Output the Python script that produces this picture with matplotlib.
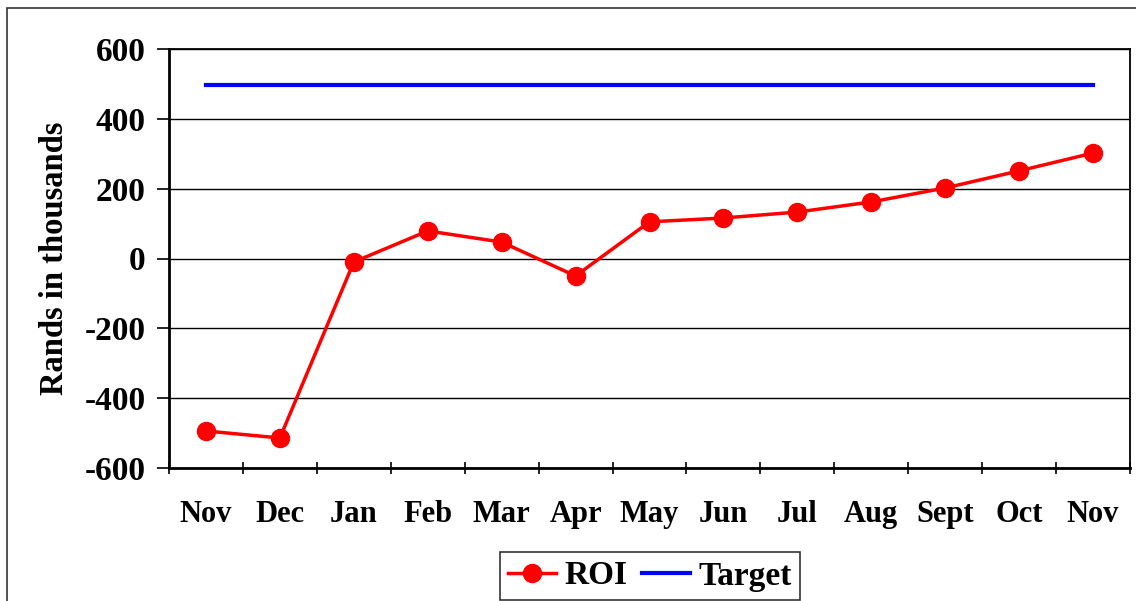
import matplotlib
matplotlib.use("Agg")
import matplotlib.pyplot as plt
from matplotlib.patches import Rectangle
from matplotlib.ticker import FixedLocator

months = ["Nov", "Dec", "Jan", "Feb", "Mar", "Apr", "May", "Jun", "Jul", "Aug", "Sept", "Oct", "Nov"]
roi = [-494, -514, -10, 79, 47, -50, 105, 116, 133, 162, 202, 251, 302]
target = [497] * len(months)
yticks = [-600, -400, -200, 0, 200, 400, 600]

plt.rcParams['font.family'] = ['Liberation Serif', 'DejaVu Serif']
plt.rcParams['font.weight'] = 'bold'

W, H = 1136, 601
fig = plt.figure(figsize=(W / 100, H / 100), dpi=100)
ax = fig.add_axes([169 / W, 1 - 468 / H, (1130 - 169) / W, (468 - 49) / H])

x = list(range(len(months)))
ax.plot(x, roi, color='#ff0000', lw=2.5, marker='o', ms=13, label='ROI', zorder=3)
ax.plot(x, target, color='#0000ff', lw=3, label='Target', zorder=3)

ax.set_xlim(-0.5, len(months) - 0.5)
ax.set_ylim(-600, 600)
ax.set_yticks(yticks)
ax.set_yticklabels([str(v) for v in yticks], fontsize=24, fontweight='bold')
ax.yaxis.grid(True, color='black', lw=1)
ax.set_axisbelow(True)

ax.set_xticks(x)
ax.set_xticklabels(months, fontsize=22, fontweight='bold')
ax.tick_params(axis='x', which='major', length=0, pad=23)
ax.xaxis.set_minor_locator(FixedLocator([i - 0.5 for i in range(len(months) + 1)]))
ax.tick_params(axis='x', which='minor', length=9, width=1.2, direction='inout')
ax.tick_params(axis='y', length=9, width=1.2, direction='out', pad=8)

for s in ['left', 'bottom']:
    ax.spines[s].set_linewidth(2)
for s in ['top', 'right']:
    ax.spines[s].set_linewidth(1.3)

ax.set_ylabel('Rands in thousands', fontsize=23.5, fontweight='bold', labelpad=10)

leg = fig.legend(loc='center', bbox_to_anchor=(650 / W, 1 - 576 / H), ncol=2,
                 prop={'family': 'Liberation Serif', 'weight': 'bold', 'size': 24},
                 frameon=True, fancybox=False, edgecolor='black', handlelength=1.45,
                 handletextpad=0.25, columnspacing=0.42, borderpad=0.25, markerscale=1.0)
leg.get_frame().set_linewidth(1.2)

fig.patches.append(Rectangle((7 / W, -0.05), 1.2, 1 - 8 / H + 0.05, transform=fig.transFigure,
                             fill=False, edgecolor='#333333', lw=1.2))

fig.savefig('out.png', dpi=100)
